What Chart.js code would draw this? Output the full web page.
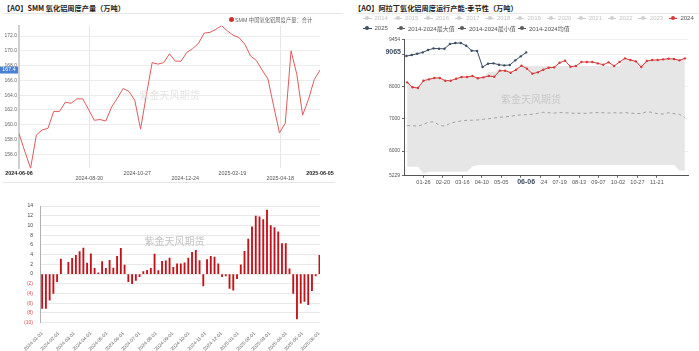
<!DOCTYPE html>
<html>
<head>
<meta charset="utf-8">
<script src="https://cdn.jsdelivr.net/npm/chart.js@4.4.1/dist/chart.umd.min.js"></script>
<style>
  body { margin: 0; background: #fff; }
  #page { position: relative; width: 699px; height: 351px; overflow: hidden; font-family: "Liberation Sans", Arial, "Noto Sans CJK SC", sans-serif; }
  canvas { position: absolute; }
  .title { position: absolute; top: 3px; font: bold 7.2px "Noto Sans CJK SC", sans-serif; color: #222; white-space: nowrap; line-height: 10px; }
  .rule { position: absolute; height: 1px; background: #e6e6e6; }
  .lg { position: absolute; display: flex; align-items: center; height: 8px; font-size: 6px; color: #555; white-space: nowrap; font-family: "Liberation Sans", "Noto Sans CJK SC", sans-serif; }
  .lg .it { display: flex; align-items: center; flex: none; }
  .lg .sym { position: relative; width: 8.5px; height: 1px; margin-right: 3px; flex: none; }
  .lg .sym::after { content: ''; position: absolute; left: 2.25px; top: -1.5px; width: 4px; height: 4px; border-radius: 50%; background: inherit; }
  .lg .dot { width: 5px; height: 5px; border-radius: 50%; margin-right: 1.5px; flex: none; }
</style>
</head>
<body>
<div id="page">
  <div class="title" style="left:3px">【AO】SMM 氧化铝周度产量（万吨）</div>
  <div class="title" style="left:354px">【AO】阿拉丁氧化铝周度运行产能-季节性（万吨）</div>
  <div class="rule" style="left:3px;top:13px;width:340px"></div>
  <div class="rule" style="left:356px;top:13px;width:343px"></div>
  <div class="rule" style="left:3px;top:182px;width:332px"></div>
  <canvas id="prodChart" width="345" height="166" style="left:0;top:20px"></canvas>
  <canvas id="capChart" width="349" height="154" style="left:350px;top:34px"></canvas>
  <canvas id="diffChart" width="345" height="155" style="left:0;top:196px"></canvas>
  <div id="prodLegend" class="lg" style="left:228.5px;top:15.5px;font-size:5.3px;color:#666"></div>
  <div id="capLegend1" class="lg" style="left:363px;top:14px"></div>
  <div id="capLegend2" class="lg" style="left:363px;top:24px"></div>
</div>
<script>
// SMM weekly output, 2024-06-06 .. 2025-06-05
const prodStart = '2024-06-06';
const prodValues = [158.8, 156.4, 154.1, 158.6, 159.3, 159.5, 161.8, 161.8, 163.05, 162.9,
  163.5, 163.5, 162.1, 160.6, 160.7, 160.5, 162.4, 163.6, 164.9, 164.5,
  163.3, 159.4, 164.0, 168.4, 168.2, 168.4, 169.6, 168.6, 168.6, 169.8,
  170.3, 171.0, 172.4, 172.5, 172.9, 173.4, 172.7, 172.1, 171.8, 170.9,
  169.3, 168.7, 167.4, 166.2, 162.5, 158.9, 160.2, 170.0, 166.8, 161.3,
  163.4, 166.1, 167.4];
const prodXLabels = ['2024-06-06', '2024-08-30', '2024-10-27', '2024-12-24', '2025-02-19', '2025-04-18', '2025-06-05'];
const prodYTicks = [156, 158, 160, 162, 164, 166, 168, 170, 172];
const prodLegendLabel = 'SMM 中国氧化铝周度产量：合计';

// Aladdin weekly running capacity, seasonal
const capYear = '2024';
const cap2024Start = '01-05';
const cap2024 = [8135, 7980, 7960, 8186, 8228, 8270, 8270, 8186, 8186, 8248,
  8300, 8300, 8330, 8260, 8290, 8330, 8310, 8497, 8497, 8435,
  8528, 8652, 8560, 8404, 8445, 8528, 8590, 8600, 8745, 8807,
  8621, 8642, 8766, 8766, 8766, 8724, 8683, 8756, 8642, 8766,
  8880, 8828, 8787, 8611, 8797, 8828, 8828, 8849, 8870, 8859,
  8818, 8880];
const cap2025Last = '06-06';
const cap2025 = [8952, 8983, 9025, 9066, 9139, 9190, 9180, 9180, 9325, 9356,
  9356, 9273, 9118, 9108, 8611, 8714, 8725, 8683, 8662, 8673,
  8818, 8942, 9065];
const capMean = [6789, 6789, 6770, 6830, 6904, 6900, 6790, 6775, 6870, 6904,
  6935, 6956, 6956, 6966, 6987, 7006, 7027, 7050, 7059, 7080,
  7111, 7121, 7132, 7142, 7170, 7204, 7190, 7180, 7194, 7190,
  7180, 7170, 7175, 7170, 7190, 7194, 7190, 7180, 7190, 7180,
  7194, 7175, 7170, 7160, 7225, 7200, 7160, 7150, 7190, 7160,
  7140, 7037];
const capMax = [8135, 7980, 7960, 8186, 8228, 8270, 8270, 8186, 8186, 8248,
  8300, 8300, 8330, 8260, 8290, 8466, 8466, 8497, 8497, 8466,
  8528, 8652, 8640, 8640, 8640, 8640, 8640, 8640, 8640, 8640,
  8640, 8640, 8640, 8640, 8640, 8640, 8640, 8640, 8640, 8640,
  8880, 8828, 8787, 8700, 8797, 8828, 8828, 8849, 8870, 8859,
  8840, 8880];
const capMin = [5512, 5512, 5512, 5290, 5357, 5357, 5357, 5357, 5357, 5357,
  5357, 5357, 5520, 5565, 5565, 5565, 5565, 5565, 5565, 5565,
  5565, 5565, 5565, 5565, 5565, 5565, 5565, 5565, 5565, 5565,
  5565, 5565, 5565, 5565, 5565, 5565, 5565, 5565, 5565, 5565,
  5565, 5565, 5565, 5565, 5565, 5565, 5565, 5565, 5565, 5565,
  5390, 5390];
const capXLabels = ['01-26', '02-20', '03-16', '04-10', '05-05', '05-30', '06-24', '07-19', '08-13', '09-07', '10-02', '10-27', '11-21'];
const capYTicks = [5229, 6000, 7000, 8000, 9000, 9454];
const capFadedYears = ['2014', '2015', '2016', '2017', '2018', '2019', '2020', '2021', '2022', '2023'];

// weekly change bars
const diffStart = '2024-01-01';
const diffValues = [-7.06, -7.06, -5.35, -3.96, -1.58, 3.1, null, 2.44, 3.23, 3.83,
  4.62, 5.35, 2.24, 4.16, 1.19, 0.26, 2.57, 1.19, 2.84, 1.25,
  3.63, 5.28, 1.85, -1.58, -1.98, -1.32, -0.53, 0.53, 0.79, 1.19,
  4.09, 0.73, 2.64, 2.7, 3.3, 1.39, 2.11, 2.11, 2.31, 3.3,
  4.49, 4.88, 2.77, -2.44, 2.97, 3.63, 3.5, 2.11, -0.53, -0.4,
  -2.97, -3.3, -0.92, 1.91, 4.69, 7.19, 9.7, 11.95, 11.75, 11.22,
  13.14, 9.97, 9.57, 8.71, 6.27, 6.27, 1.06, -3.96, -9.24, -6.0,
  -5.61, -6.27, -3.43, -0.4, 3.83];
const diffXLabels = ['2024-01-01', '2024-02-01', '2024-03-01', '2024-04-01', '2024-05-01', '2024-06-01',
  '2024-07-01', '2024-08-01', '2024-09-01', '2024-10-01', '2024-11-01', '2024-12-01',
  '2025-01-01', '2025-02-01', '2025-03-01', '2025-04-01', '2025-05-01', '2025-06-01'];
const diffYTicks = [-10, -8, -6, -4, -2, 0, 2, 4, 6, 8, 10, 12, 14];

const watermark = '紫金天风期货';

const DAY = 86400000;
const daysBetween = (a, b) => (Date.parse(b) - Date.parse(a)) / DAY;
const dayOfYear = mmdd => daysBetween(capYear + '-01-01', capYear + '-' + mmdd);

Chart.defaults.font.family = '"Liberation Sans", Arial, sans-serif';
Chart.defaults.animation = false;
Chart.defaults.responsive = false;
Chart.defaults.devicePixelRatio = 1;
Chart.defaults.plugins.legend.display = false;
Chart.defaults.plugins.tooltip.enabled = false;

function watermarkPlugin(color, fx, fy) {
    return {
        id: 'watermark',
        afterDatasetsDraw(chart) {
            const a = chart.chartArea, ctx = chart.ctx;
            ctx.save();
            ctx.font = '10px "Noto Sans CJK SC"';
            ctx.fillStyle = color;
            ctx.textAlign = 'center';
            ctx.textBaseline = 'middle';
            ctx.fillText(watermark, a.left + (a.right - a.left) * fx, a.top + (a.bottom - a.top) * fy);
            ctx.restore();
        }
    };
}

// ---- top left: weekly output line ----
const prodTickDays = prodXLabels.map(d => daysBetween(prodStart, d));
const prodLast = prodValues[prodValues.length - 1];
const isEdge = i => i === 0 || i === prodXLabels.length - 1;

const lastValueTag = {
    id: 'lastValueTag',
    afterDraw(chart) {
        const y = chart.scales.y.getPixelForValue(prodLast);
        const ctx = chart.ctx;
        ctx.save();
        ctx.fillStyle = '#4a7fd4';
        ctx.fillRect(0, y - 3.5, 18, 7);
        ctx.fillStyle = '#fff';
        ctx.font = '5.3px "Liberation Sans"';
        ctx.textAlign = 'center';
        ctx.textBaseline = 'middle';
        ctx.fillText(prodLast.toFixed(1), 9, y);
        ctx.restore();
    }
};

new Chart(document.getElementById('prodChart'), {
    type: 'line',
    data: {
        datasets: [{
            data: prodValues.map((v, i) => ({ x: i * 7, y: v })),
            borderColor: '#e15b5b',
            borderWidth: 1,
            pointRadius: 0,
            tension: 0
        }]
    },
    options: {
        layout: { padding: { top: 5.7, right: 25, left: 0, bottom: 0 } },
        scales: {
            x: {
                type: 'linear',
                min: 0,
                max: prodTickDays[prodTickDays.length - 1],
                afterBuildTicks: s => { s.ticks = prodTickDays.map(v => ({ value: v })); },
                afterFit: s => { s.height = 17.7; },
                grid: {
                    color: ctx => (ctx.index === 1 || ctx.index === 5) ? '#e6e6e6' : 'rgba(0,0,0,0)',
                    drawTicks: false
                },
                border: { display: false },
                ticks: {
                    autoSkip: false,
                    maxRotation: 0,
                    padding: 3,
                    callback: (v, i) => i % 2 ? ['', prodXLabels[i]] : prodXLabels[i],
                    font: ctx => ({ size: 5.4, lineHeight: 0.9, weight: isEdge(ctx.index) ? 'bold' : 'normal' }),
                    color: ctx => isEdge(ctx.index) ? '#222' : '#555'
                }
            },
            y: {
                min: Math.min(...prodValues),
                max: Math.max(...prodValues),
                afterBuildTicks: s => { s.ticks = prodYTicks.map(v => ({ value: v })); },
                afterFit: s => { s.width = 19; },
                grid: { color: '#ececec', drawTicks: false },
                border: { color: '#cfcfcf', width: 2 },
                ticks: { padding: 2, font: { size: 5 }, color: '#666', callback: v => v.toFixed(1) }
            }
        }
    },
    plugins: [lastValueTag, watermarkPlugin('#e4e4e4', 0.5, 0.49)]
});

// ---- top right: seasonal capacity ----
const d2024 = dayOfYear(cap2024Start);
const weekX = i => d2024 + 7 * i;
const d2025Last = dayOfYear(cap2025Last);
const cap2025Days = cap2025.map((v, i) => d2025Last - 7 * (cap2025.length - 1 - i));
const capTickDays = capXLabels.map(dayOfYear);
const redCol = '#d83a3a';
const blueCol = '#3b4d63';

const capTags = {
    id: 'capTags',
    afterDraw(chart) {
        const { ctx, scales: { x, y } } = chart;
        const v = cap2025[cap2025.length - 1];
        ctx.save();
        ctx.font = 'bold 7px "Liberation Sans"';
        ctx.textBaseline = 'middle';
        // value tag on the y axis
        const py = y.getPixelForValue(v);
        const txt = String(v);
        const w = ctx.measureText(txt).width;
        ctx.fillStyle = '#fff';
        ctx.fillRect(x.left - 5 - w, py - 4, w + 3, 8);
        ctx.fillStyle = blueCol;
        ctx.textAlign = 'right';
        ctx.fillText(txt, x.left - 3, py);
        // date tag on the x axis
        const px = x.getPixelForValue(d2025Last);
        const lbl = cap2025Last;
        const lw = ctx.measureText(lbl).width;
        const ly = y.bottom + 6.5;
        ctx.fillStyle = '#fff';
        ctx.fillRect(px - lw / 2 - 5, y.bottom + 2.5, lw + 10, 9);
        ctx.fillStyle = blueCol;
        ctx.textAlign = 'center';
        ctx.fillText(lbl, px, ly);
        ctx.restore();
    }
};

new Chart(document.getElementById('capChart'), {
    type: 'line',
    data: {
        datasets: [
            { label: '2024', data: cap2024.map((v, i) => ({ x: weekX(i), y: v })), borderColor: redCol, backgroundColor: redCol, borderWidth: 1, pointRadius: 1.2, pointBorderWidth: 0 },
            { label: '2025', data: cap2025.map((v, i) => ({ x: cap2025Days[i], y: v })), borderColor: blueCol, backgroundColor: blueCol, borderWidth: 1, pointRadius: 1.2, pointBorderWidth: 0 },
            { label: '2014-2024均值', data: capMean.map((v, i) => ({ x: weekX(i), y: v })), borderColor: '#a0a0a0', borderDash: [3, 3], borderWidth: 1, pointRadius: 0 },
            { label: '2014-2024最大值', data: capMax.map((v, i) => ({ x: weekX(i), y: v })), borderWidth: 0, pointRadius: 0, fill: '+1', backgroundColor: '#e6e6e6' },
            { label: '2014-2024最小值', data: capMin.map((v, i) => ({ x: weekX(i), y: v })), borderWidth: 0, pointRadius: 0, fill: false }
        ]
    },
    options: {
        layout: { padding: { top: 5.9, right: 11, left: 0, bottom: 0 } },
        scales: {
            x: {
                type: 'linear',
                min: 0,
                max: 365,
                afterBuildTicks: s => { s.ticks = capTickDays.map(v => ({ value: v })); },
                afterFit: s => { s.height = 12.2; },
                grid: { drawOnChartArea: false, drawTicks: true, tickLength: 2, tickColor: '#666' },
                border: { color: '#555' },
                ticks: {
                    autoSkip: false,
                    maxRotation: 0,
                    padding: 1,
                    font: { size: 5.6 },
                    color: '#555',
                    callback: (v, i) => capXLabels[i]
                }
            },
            y: {
                min: capYTicks[0],
                max: capYTicks[capYTicks.length - 1],
                afterBuildTicks: s => { s.ticks = capYTicks.map(v => ({ value: v })); },
                afterFit: s => { s.width = 54; },
                grid: { color: '#efefef', drawTicks: true, tickLength: 2, tickColor: '#666' },
                border: { color: '#555' },
                ticks: { padding: 2, font: { size: 5 }, color: '#555', callback: v => String(v) }
            }
        }
    },
    plugins: [capTags, watermarkPlugin('#c9c9c9', 0.447, 0.435)]
});

// ---- bottom: weekly change bars ----
const diffTickDays = diffXLabels.map(d => daysBetween(diffStart, d));

new Chart(document.getElementById('diffChart'), {
    type: 'bar',
    data: {
        datasets: [{
            data: diffValues.map((v, i) => ({ x: i * 7, y: v })),
            backgroundColor: '#c4121a',
            barThickness: 1.2
        }]
    },
    options: {
        layout: { padding: { top: 5.7, right: 25, left: 0, bottom: 0 } },
        scales: {
            x: {
                type: 'linear',
                offset: false,
                min: -4,
                max: (diffValues.length - 1) * 7 + 1,
                afterBuildTicks: s => { s.ticks = diffTickDays.map(v => ({ value: v })); },
                afterFit: s => { s.height = 28.3; },
                grid: { display: false, drawTicks: false, offset: false },
                border: { display: false },
                ticks: {
                    autoSkip: false,
                    minRotation: 45,
                    maxRotation: 45,
                    padding: 8,
                    font: { size: 4.8 },
                    color: '#666',
                    callback: (v, i) => diffXLabels[i]
                }
            },
            y: {
                min: diffYTicks[0],
                max: diffYTicks[diffYTicks.length - 1],
                afterBuildTicks: s => { s.ticks = diffYTicks.map(v => ({ value: v })); },
                afterFit: s => { s.width = 40; },
                grid: { color: '#e9e9e9', drawTicks: false },
                border: { color: '#b0b0b0' },
                ticks: {
                    padding: 7,
                    font: { size: 5 },
                    color: ctx => ctx.tick.value < 0 ? '#e05050' : '#444',
                    callback: v => v < 0 ? '(' + (-v) + ')' : String(v)
                }
            }
        }
    },
    plugins: [watermarkPlugin('#c4c4c4', 0.48, 0.30)]
});

// ---- legends ----
function legendItem(label, color, textColor, width) {
    const it = document.createElement('span');
    it.className = 'it';
    if (width) it.style.width = width + 'px';
    const sym = document.createElement('span');
    sym.className = 'sym';
    sym.style.background = color;
    const tx = document.createElement('span');
    tx.textContent = label;
    tx.style.color = textColor;
    it.append(sym, tx);
    return it;
}

const prodLg = document.getElementById('prodLegend');
const dot = document.createElement('span');
dot.className = 'dot';
dot.style.background = '#d42e2e';
const prodTx = document.createElement('span');
prodTx.textContent = prodLegendLabel;
prodLg.append(dot, prodTx);

const row1 = document.getElementById('capLegend1');
capFadedYears.forEach(y => row1.append(legendItem(y, '#d0d0d0', '#c4c4c4', 30.6)));
row1.append(legendItem('2024', redCol, '#555', 30.6));

const row2 = document.getElementById('capLegend2');
row2.append(legendItem('2025', blueCol, '#555', 33.5));
row2.append(legendItem('2014-2024最大值', '#5c5c5c', '#555', 61));
row2.append(legendItem('2014-2024最小值', '#5c5c5c', '#555', 60));
row2.append(legendItem('2014-2024均值', '#5c5c5c', '#555', 60));
</script>
</body>
</html>
